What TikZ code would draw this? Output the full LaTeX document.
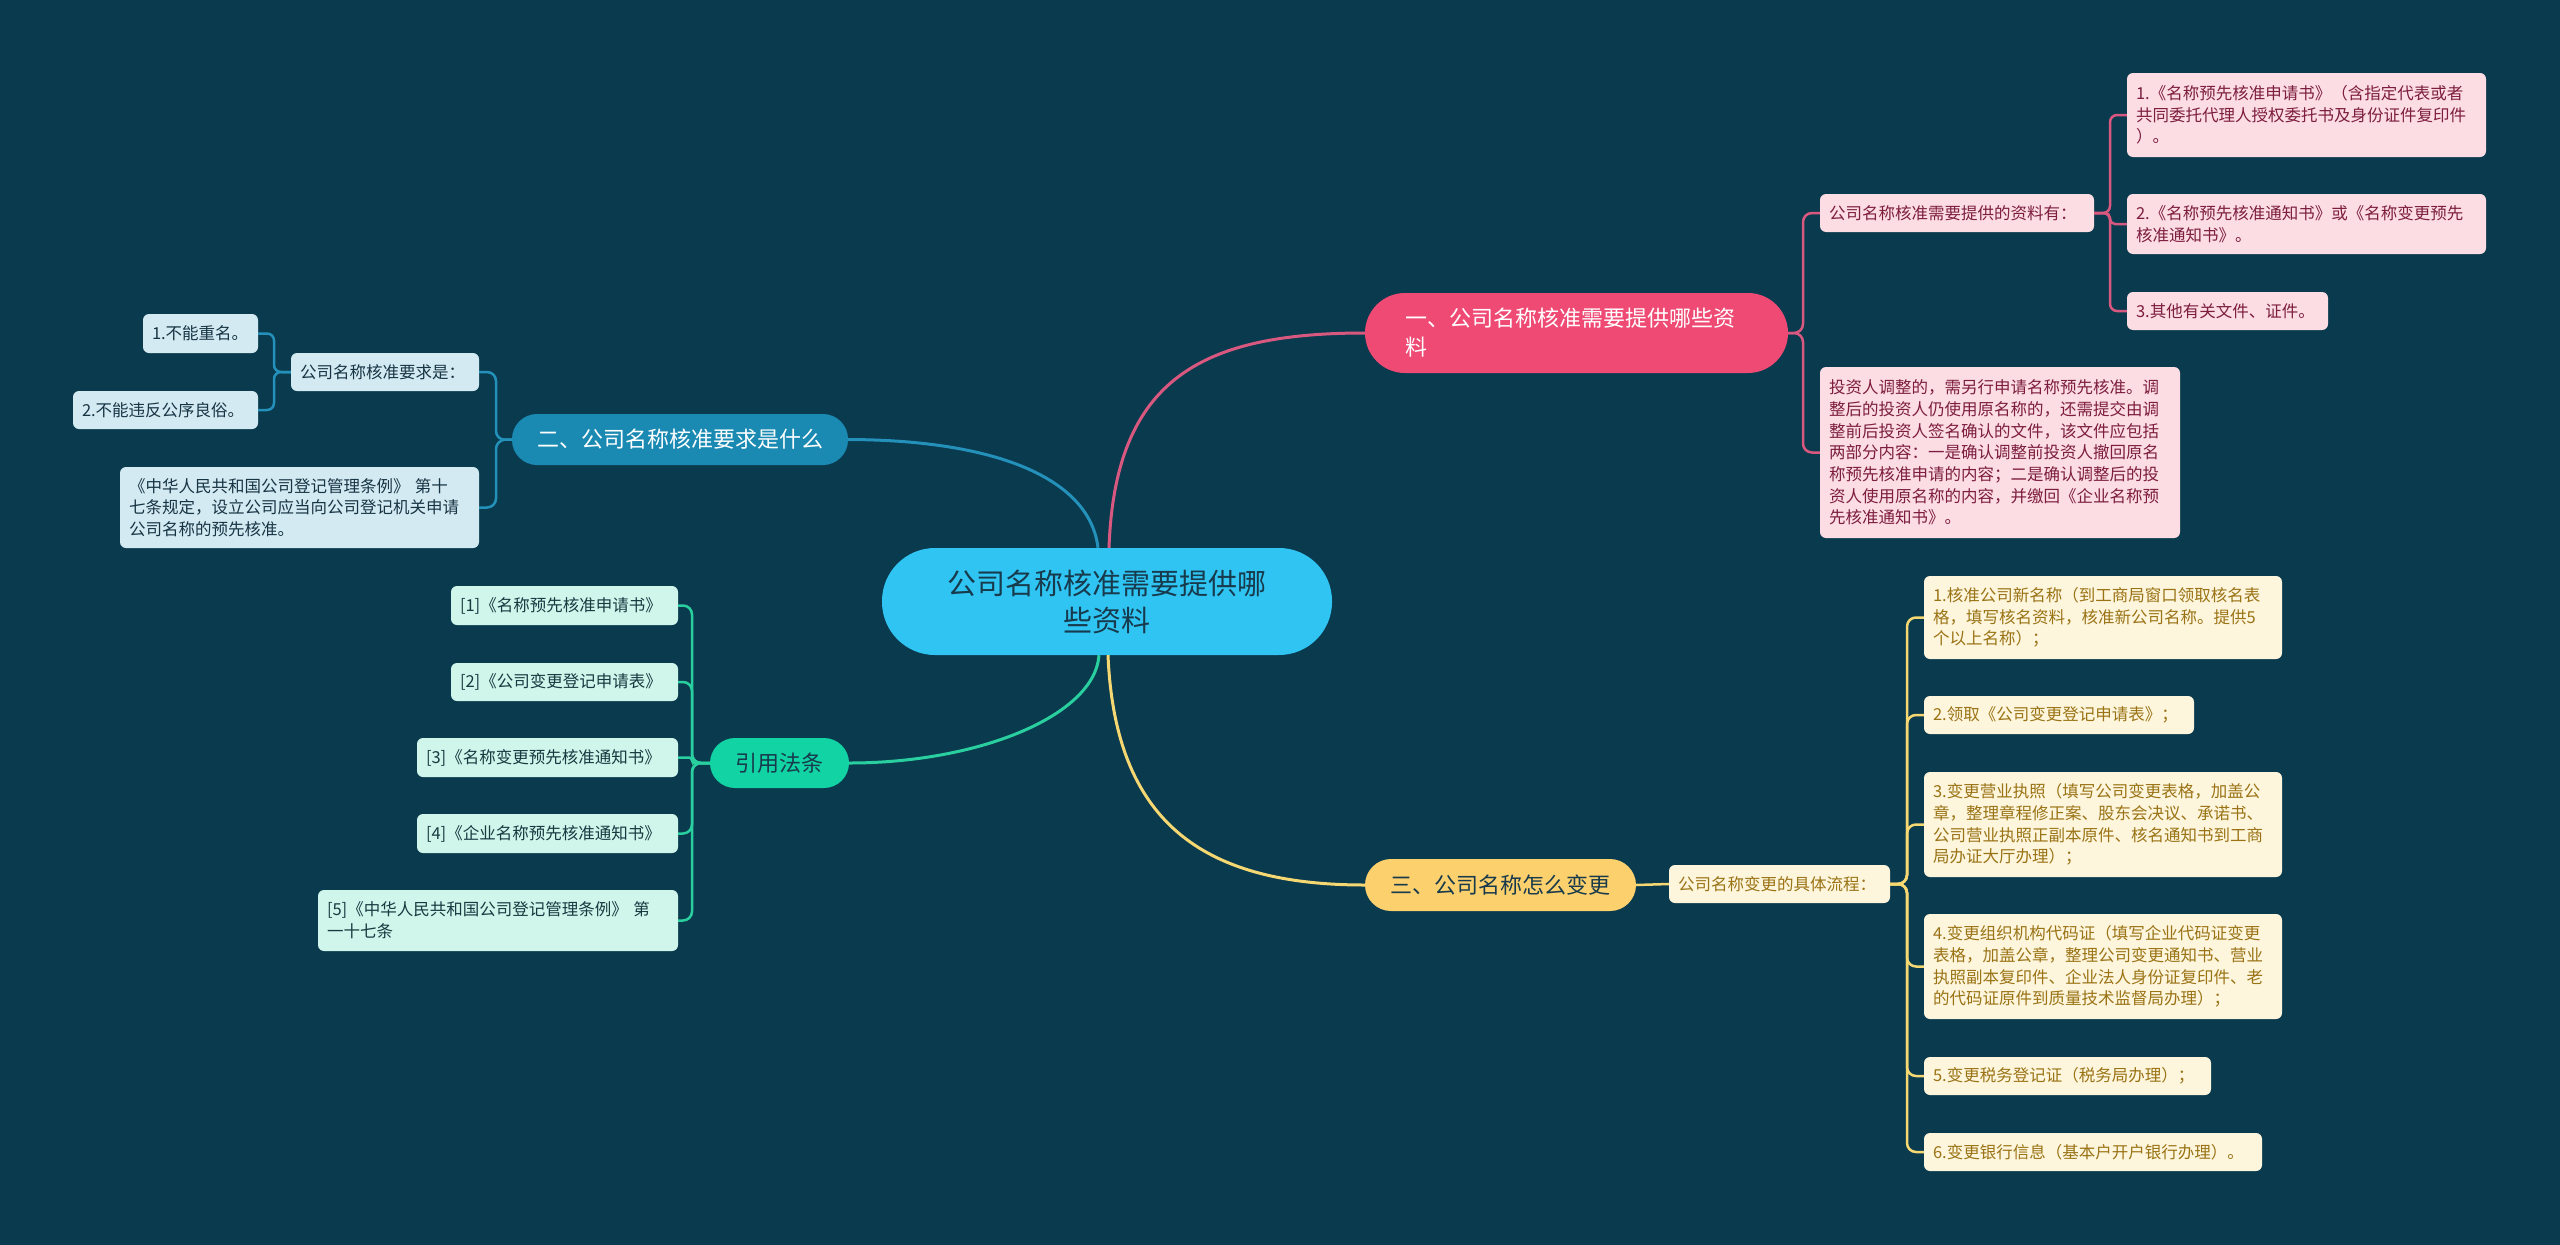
\documentclass[tikz,border=0pt]{standalone}
\usepackage{fontspec}
\setmainfont{Noto Sans CJK SC}
\definecolor{bgc}{HTML}{0A3A4E}
\definecolor{cfill}{HTML}{30C4F3}
\definecolor{ctext}{HTML}{173A4C}
\definecolor{pinkb}{HTML}{EF4A74}
\definecolor{pinkl}{HTML}{D9587F}
\definecolor{pinkf}{HTML}{FCDDE3}
\definecolor{pinkt}{HTML}{7D1D3F}
\definecolor{blueb}{HTML}{1A8AB3}
\definecolor{bluel}{HTML}{2391BA}
\definecolor{bluef}{HTML}{D4EAF2}
\definecolor{bluet}{HTML}{173444}
\definecolor{greenb}{HTML}{12D3A3}
\definecolor{greenl}{HTML}{2ACF9F}
\definecolor{greenf}{HTML}{D0F6EC}
\definecolor{greent}{HTML}{173A40}
\definecolor{yelb}{HTML}{FCD06C}
\definecolor{yell}{HTML}{F6D872}
\definecolor{yelf}{HTML}{FDF5DC}
\definecolor{yelt}{HTML}{9A7315}
\tikzset{
  leaf/.style={rectangle, rounded corners=6pt, inner xsep=9pt, inner ysep=0pt, align=left,
    font=\fontsize{16.5}{21.7}\selectfont},
  pleaf/.style={leaf, fill=pinkf, text=pinkt},
  bleaf/.style={leaf, fill=bluef, text=bluet},
  gleaf/.style={leaf, fill=greenf, text=greent},
  yleaf/.style={leaf, fill=yelf, text=yelt},
  branch/.style={rectangle, inner sep=0pt, font=\fontsize{22}{29}\selectfont},
  mainln/.style={line width=3pt},
  subln/.style={line width=2.5pt, rounded corners=9pt},
}
\begin{document}
\begin{tikzpicture}[x=1pt,y=-1pt]
\useasboundingbox (0,0) rectangle (2560,1245);
\fill[bgc] (0,0) rectangle (2560,1245);

% center
\node[rectangle, rounded corners=53pt, fill=cfill, text=ctext, minimum width=450pt, minimum height=107pt,
  text width=380pt, align=center, inner sep=0pt, font=\fontsize{29}{37}\selectfont] (C) at (1107,601.5)
  {公司名称核准需要提供哪\\些资料};

% branch 1 (pink)
\node[branch, rounded corners=40pt, fill=pinkb, text=white, minimum height=80pt, inner xsep=40pt,
  text width=343pt, align=left] (B1) at (1576.5,333) {一、公司名称核准需要提供哪些资\\料};
\node[pleaf, text width=256pt, minimum height=38pt] (S1) at (1957,213) {公司名称核准需要提供的资料有：};
\node[pleaf, text width=341pt, minimum height=84pt] (P1) at (2306.5,115)
  {1.《名称预先核准申请书》（含指定代表或者\\共同委托代理人授权委托书及身份证件复印件\\）。};
\node[pleaf, text width=341pt, minimum height=60pt] (P2) at (2306.5,224)
  {2.《名称预先核准通知书》或《名称变更预先\\核准通知书》。};
\node[pleaf, text width=183pt, minimum height=38pt] (P3) at (2227.5,311) {3.其他有关文件、证件。};
\node[pleaf, text width=342pt, minimum height=171pt] (INV) at (2000,452.5)
  {投资人调整的，需另行申请名称预先核准。调\\整后的投资人仍使用原名称的，还需提交由调\\整前后投资人签名确认的文件，该文件应包括\\两部分内容：一是确认调整前投资人撤回原名\\称预先核准申请的内容；二是确认调整后的投\\资人使用原名称的内容，并缴回《企业名称预\\先核准通知书》。};

% branch 2 (blue)
\node[branch, rounded corners=25pt, fill=blueb, text=white, minimum width=336pt, minimum height=51pt] (B2) at (680,439.5)
  {二、公司名称核准要求是什么};
\node[bleaf, text width=170pt, minimum height=38pt] (S2) at (385,372) {公司名称核准要求是：};
\node[bleaf, text width=97pt, minimum height=39pt] (Q1) at (200.5,333.5) {1.不能重名。};
\node[bleaf, text width=167pt, minimum height=38pt] (Q2) at (165.5,410) {2.不能违反公序良俗。};
\node[bleaf, text width=341pt, minimum height=81pt] (LAW) at (299.5,507.5)
  {《中华人民共和国公司登记管理条例》 第十\\七条规定，设立公司应当向公司登记机关申请\\公司名称的预先核准。};

% branch 3 (yellow)
\node[branch, rounded corners=26pt, fill=yelb, text=ctext, minimum width=271pt, minimum height=52pt] (B3) at (1500.5,885)
  {三、公司名称怎么变更};
\node[yleaf, text width=203pt, minimum height=38pt] (S3) at (1779.5,884) {公司名称变更的具体流程：};
\node[yleaf, text width=340pt, minimum height=83pt] (Y1) at (2103,617.5)
  {1.核准公司新名称（到工商局窗口领取核名表\\格，填写核名资料，核准新公司名称。提供5\\个以上名称）；};
\node[yleaf, text width=252pt, minimum height=38pt] (Y2) at (2059,715) {2.领取《公司变更登记申请表》；};
\node[yleaf, text width=340pt, minimum height=105pt] (Y3) at (2103,824.5)
  {3.变更营业执照（填写公司变更表格，加盖公\\章，整理章程修正案、股东会决议、承诺书、\\公司营业执照正副本原件、核名通知书到工商\\局办证大厅办理）；};
\node[yleaf, text width=340pt, minimum height=105pt] (Y4) at (2103,966.5)
  {4.变更组织机构代码证（填写企业代码证变更\\表格，加盖公章，整理公司变更通知书、营业\\执照副本复印件、企业法人身份证复印件、老\\的代码证原件到质量技术监督局办理）；};
\node[yleaf, text width=269pt, minimum height=38pt] (Y5) at (2067.5,1076) {5.变更税务登记证（税务局办理）；};
\node[yleaf, text width=320pt, minimum height=38pt] (Y6) at (2093,1152) {6.变更银行信息（基本户开户银行办理）。};

% branch 4 (green)
\node[branch, rounded corners=25pt, fill=greenb, text=ctext, minimum width=139pt, minimum height=50pt] (B4) at (779.5,763)
  {引用法条};
\node[gleaf, text width=209pt, minimum height=39pt] (G1) at (564.5,605.5) {[1]《名称预先核准申请书》};
\node[gleaf, text width=209pt, minimum height=38pt] (G2) at (564.5,682) {[2]《公司变更登记申请表》};
\node[gleaf, text width=243pt, minimum height=39pt] (G3) at (547.5,757.5) {[3]《名称变更预先核准通知书》};
\node[gleaf, text width=243pt, minimum height=39pt] (G4) at (547.5,833.5) {[4]《企业名称预先核准通知书》};
\node[gleaf, text width=342pt, minimum height=61pt] (G5) at (498,920.5) {[5]《中华人民共和国公司登记管理条例》 第\\一十七条};

% main connectors
\draw[mainln, pinkl] ([xshift=2pt]C.north) .. controls (1115,380) and (1200,333) .. (B1.west);
\draw[mainln, bluel] ([xshift=-9pt]C.north) .. controls (1090,480) and (1000,440) .. (B2.east);
\draw[mainln, greenl] ([xshift=-8pt]C.south) .. controls (1095,715) and (980,763) .. (B4.east);
\draw[mainln, yell] ([xshift=1pt]C.south) .. controls (1115,820) and (1200,885) .. (B3.west);

% pink sub connectors
\coordinate (pj) at (1803,333);
\coordinate (pj2) at (2110,213);
\draw[subln, pinkl] (B1.east) -- (pj) |- (S1.west);
\draw[subln, pinkl] (B1.east) -- (pj) |- (INV.west);
\draw[subln, pinkl, rounded corners=7pt] (S1.east) -- (pj2) |- (P1.west);
\draw[subln, pinkl, rounded corners=5pt] (S1.east) -- (pj2) |- (P2.west);
\draw[subln, pinkl, rounded corners=7pt] (S1.east) -- (pj2) |- (P3.west);

% blue sub connectors
\coordinate (bj) at (496,440);
\coordinate (bj2) at (274,372);
\draw[subln, bluel] (B2.west) -- (bj) |- (S2.east);
\draw[subln, bluel] (B2.west) -- (bj) |- (LAW.east);
\draw[subln, bluel, rounded corners=7pt] (S2.west) -- (bj2) |- (Q1.east);
\draw[subln, bluel, rounded corners=7pt] (S2.west) -- (bj2) |- (Q2.east);

% green sub connectors
\coordinate (gj) at (692,763);
\draw[subln, greenl] (B4.west) -- (gj) |- (G1.east);
\draw[subln, greenl] (B4.west) -- (gj) |- (G2.east);
\draw[subln, greenl, rounded corners=3pt] (B4.west) -- (gj) |- (G3.east);
\draw[subln, greenl] (B4.west) -- (gj) |- (G4.east);
\draw[subln, greenl] (B4.west) -- (gj) |- (G5.east);

% yellow sub connectors
\coordinate (yj) at (1907,884);
\draw[subln, yell] (B3.east) -- (S3.west);
\draw[subln, yell] (S3.east) -- (yj) |- (Y1.west);
\draw[subln, yell] (S3.east) -- (yj) |- (Y2.west);
\draw[subln, yell] (S3.east) -- (yj) |- (Y3.west);
\draw[subln, yell] (S3.east) -- (yj) |- (Y4.west);
\draw[subln, yell] (S3.east) -- (yj) |- (Y5.west);
\draw[subln, yell] (S3.east) -- (yj) |- (Y6.west);
\end{tikzpicture}
\end{document}
